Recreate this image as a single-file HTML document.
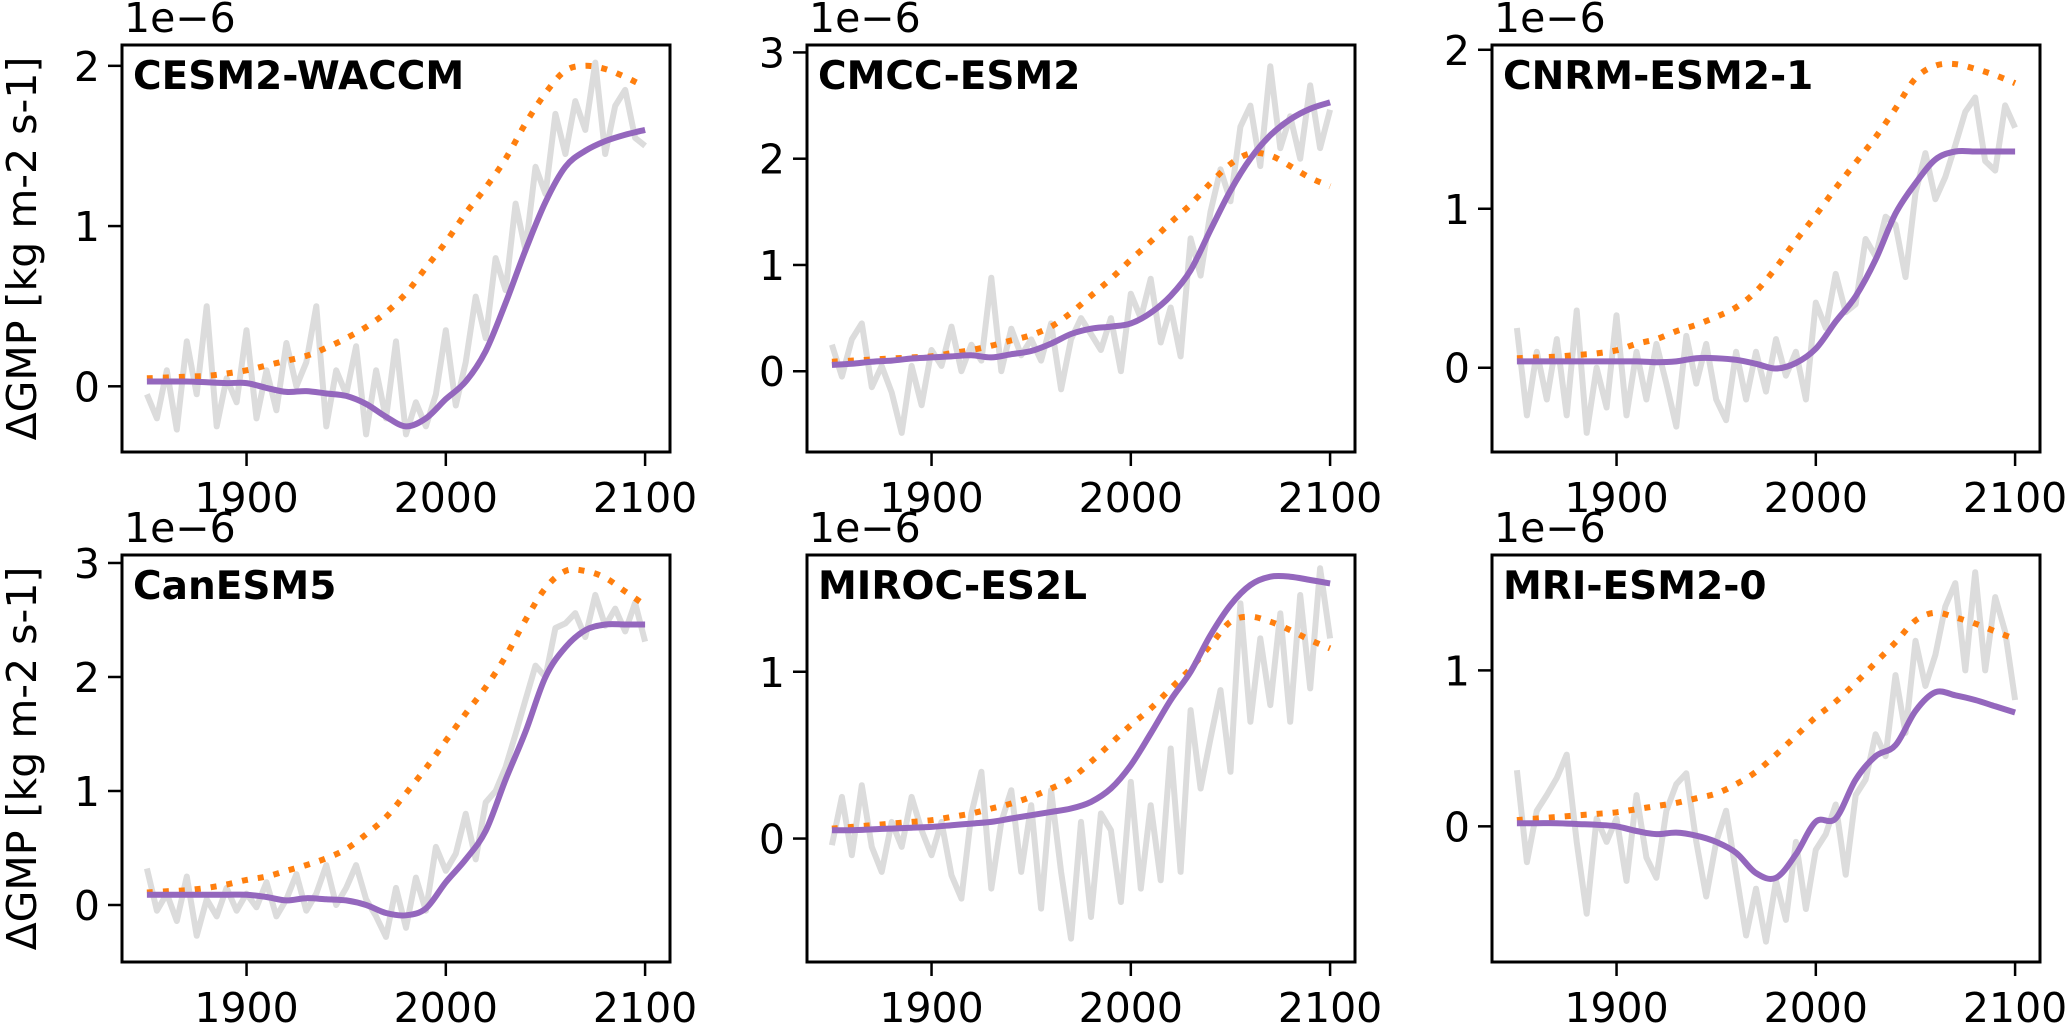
<!DOCTYPE html>
<html><head><meta charset="utf-8">
<style>
html,body{margin:0;padding:0;background:#fff;}
svg{display:block;font-family:"DejaVu Sans","Liberation Sans",sans-serif;}
</style></head>
<body>
<svg id="fig" width="2067" height="1027" viewBox="0 0 2067 1027" xmlns="http://www.w3.org/2000/svg"></svg>
<script>
// ---- data (values in 1e-6 kg m-2 s-1) ----
const models = ["CESM2-WACCM","CMCC-ESM2","CNRM-ESM2-1","CanESM5","MIROC-ES2L","MRI-ESM2-0"];
const decadeYears = [1850,1860,1870,1880,1890,1900,1910,1920,1930,1940,1950,1960,1970,1980,1990,2000,2010,2020,2030,2040,2050,2060,2070,2080,2090,2100];
const pentadYears = [1850,1855,1860,1865,1870,1875,1880,1885,1890,1895,1900,1905,1910,1915,1920,1925,1930,1935,1940,1945,1950,1955,1960,1965,1970,1975,1980,1985,1990,1995,2000,2005,2010,2015,2020,2025,2030,2035,2040,2045,2050,2055,2060,2065,2070,2075,2080,2085,2090,2095,2100];
const xTicks = [1900,2000,2100];
const yTicks1 = [0,1,2];
const yTicks2 = [0,1,2,3];
const yTicks3 = [0,1,2];
const yTicks4 = [0,1,2,3];
const yTicks5 = [0,1];
const yTicks6 = [0,1];
const yLim1 = [-0.41,2.13];
const yLim2 = [-0.76,3.07];
const yLim3 = [-0.53,2.03];
const yLim4 = [-0.50,3.07];
const yLim5 = [-0.74,1.70];
const yLim6 = [-0.87,1.74];

const orange1 = [.05,.055,.06,.065,.08,.10,.13,.16,.19,.24,.30,.37,.46,.58,.74,.90,1.08,1.24,1.42,1.64,1.83,1.97,2.0,1.98,1.93,1.87];
const purple1 = [.03,.03,.03,.025,.02,.02,-.01,-.035,-.03,-.045,-.06,-.11,-.19,-.25,-.20,-.08,.03,.22,.52,.85,1.15,1.37,1.47,1.53,1.57,1.60];
const gray1 = [-.05,-.2,.1,-.27,.28,-.05,.5,-.25,.05,-.1,.35,-.2,.1,-.15,.27,0,.15,.5,-.25,.1,-.05,.25,-.3,.1,-.2,.28,-.3,-.1,-.25,-.05,.35,-.12,.15,.56,.3,.8,.6,1.14,.85,1.37,1.2,1.7,1.45,1.78,1.6,2.02,1.45,1.75,1.85,1.55,1.5];

const orange2 = [.09,.10,.11,.12,.13,.14,.17,.20,.24,.29,.34,.42,.55,.71,.87,1.05,1.22,1.40,1.57,1.77,1.95,2.05,2.03,1.93,1.82,1.74];
const purple2 = [.06,.07,.09,.10,.12,.13,.14,.15,.13,.16,.19,.26,.35,.40,.42,.45,.55,.71,.95,1.33,1.70,2.00,2.22,2.37,2.47,2.53];
const gray2 = [.25,-.05,.3,.45,-.15,.05,-.2,-.58,.05,-.32,.2,.05,.42,0,.25,.1,.88,0,.4,.15,.3,.1,.45,-.17,.3,.5,.35,.2,.5,0,.73,.5,.87,.27,.6,.14,1.25,.9,1.5,1.9,1.6,2.3,2.5,1.93,2.87,2.1,2.4,2.0,2.69,2.1,2.46];

const orange3 = [.06,.065,.07,.08,.09,.11,.15,.18,.23,.27,.32,.38,.48,.63,.80,.96,1.13,1.29,1.45,1.63,1.82,1.90,1.91,1.88,1.84,1.79];
const purple3 = [.04,.04,.04,.04,.04,.04,.04,.035,.04,.06,.06,.05,.025,-.005,.03,.12,.29,.45,.68,.97,1.16,1.31,1.36,1.36,1.36,1.36];
const gray3 = [.25,-.3,.1,-.2,.18,-.3,.36,-.41,0,-.25,.33,-.3,.1,-.2,.15,-.1,-.37,.2,-.1,.15,-.2,-.33,.1,-.2,.1,-.15,.18,-.05,.1,-.2,.41,.25,.59,.35,.4,.81,.7,.95,.9,.57,1.1,1.35,1.06,1.2,1.4,1.61,1.7,1.3,1.24,1.65,1.51];

const orange4 = [.11,.12,.13,.15,.18,.22,.25,.30,.35,.41,.49,.62,.77,.98,1.20,1.44,1.68,1.91,2.18,2.50,2.78,2.93,2.93,2.87,2.75,2.63];
const purple4 = [.09,.09,.09,.09,.09,.09,.07,.04,.06,.05,.04,0,-.07,-.09,-.03,.20,.40,.65,1.10,1.52,2.00,2.26,2.41,2.46,2.46,2.46];
const gray4 = [.32,-.05,.1,-.14,.25,-.27,.05,-.1,.15,-.05,.1,-.02,.2,-.1,.05,.27,-.05,.1,.35,0,.15,.35,.05,-.1,-.28,.15,-.2,.24,-.05,.51,.3,.45,.8,.4,.9,1.0,1.21,1.5,1.8,2.1,2.0,2.43,2.47,2.56,2.35,2.72,2.45,2.6,2.4,2.65,2.31];

const orange5 = [.06,.07,.08,.09,.10,.11,.13,.15,.18,.21,.25,.30,.36,.46,.57,.68,.78,.90,1.02,1.16,1.30,1.33,1.30,1.25,1.19,1.14];
const purple5 = [.05,.05,.055,.06,.065,.07,.08,.09,.10,.12,.14,.16,.18,.22,.30,.44,.63,.83,1.00,1.22,1.40,1.52,1.57,1.57,1.55,1.53];
const gray5 = [-.04,.25,-.1,.32,-.05,-.2,.1,-.05,.25,.05,-.1,.1,-.22,-.36,.15,.4,-.3,.1,.29,-.2,.2,-.42,.29,-.2,-.6,.1,-.47,.15,.05,-.38,.34,-.3,.2,-.25,.54,-.2,.77,.3,.6,.89,.4,1.41,.7,1.2,.8,1.35,.7,1.46,.9,1.62,1.2];

const orange6 = [.04,.05,.06,.07,.08,.09,.11,.13,.15,.18,.21,.27,.35,.46,.58,.70,.80,.92,1.05,1.18,1.32,1.37,1.34,1.30,1.25,1.20];
const purple6 = [.02,.02,.02,.015,.01,0,-.03,-.05,-.04,-.06,-.10,-.17,-.30,-.33,-.18,.03,.05,.30,.45,.52,.74,.86,.84,.81,.77,.73];
const gray6 = [.36,-.23,.1,.2,.31,.46,-.1,-.56,.05,-.1,.05,-.35,.2,-.2,-.33,.1,.27,.34,-.1,-.45,-.1,.1,-.3,-.7,-.4,-.74,-.35,-.6,-.1,-.53,-.15,-.05,.14,-.31,.2,.3,.59,.45,.97,.6,1.19,.9,1.1,1.41,1.56,1.0,1.63,1.0,1.47,1.25,.81];

const panels = [
 {o:orange1,p:purple1,g:gray1,yt:yTicks1,yl:yLim1},
 {o:orange2,p:purple2,g:gray2,yt:yTicks2,yl:yLim2},
 {o:orange3,p:purple3,g:gray3,yt:yTicks3,yl:yLim3},
 {o:orange4,p:purple4,g:gray4,yt:yTicks4,yl:yLim4},
 {o:orange5,p:purple5,g:gray5,yt:yTicks5,yl:yLim5},
 {o:orange6,p:purple6,g:gray6,yt:yTicks6,yl:yLim6}
];

// ---- layout ----
const NS = "http://www.w3.org/2000/svg";
const svg = document.getElementById('fig');
const lefts = [122,807,1492], tops = [45,555], W = 548, H = 407;
const X0 = 1837.5, X1 = 2112.5;

function mk(tag, attrs, parent){
  const e = document.createElementNS(NS, tag);
  for (const k in attrs) e.setAttribute(k, attrs[k]);
  (parent||svg).appendChild(e);
  return e;
}
function smoothPath(pts){
  let d = "M" + pts[0][0].toFixed(1) + "," + pts[0][1].toFixed(1);
  for (let i=0;i<pts.length-1;i++){
    const p0 = pts[Math.max(0,i-1)], p1 = pts[i], p2 = pts[i+1], p3 = pts[Math.min(pts.length-1,i+2)];
    const c1x = p1[0] + (p2[0]-p0[0])/6, c1y = p1[1] + (p2[1]-p0[1])/6;
    const c2x = p2[0] - (p3[0]-p1[0])/6, c2y = p2[1] - (p3[1]-p1[1])/6;
    d += " C" + c1x.toFixed(1)+","+c1y.toFixed(1)+" "+c2x.toFixed(1)+","+c2y.toFixed(1)+" "+p2[0].toFixed(1)+","+p2[1].toFixed(1);
  }
  return d;
}

panels.forEach((pn, i) => {
  const L = lefts[i%3], T = tops[Math.floor(i/3)];
  const sx = v => L + (v - X0) / (X1 - X0) * W;
  const sy = v => T + (pn.yl[1] - v) / (pn.yl[1] - pn.yl[0]) * H;
  const g = mk('g', {});
  
  
  const clipId = 'clip' + i;
  const cp = mk('clipPath', {id: clipId}, g);
  mk('rect', {x:L, y:T, width:W, height:H}, cp);

  const plot = mk('g', {'clip-path':'url(#'+clipId+')'}, g);
  const gp = mk('polyline', {points: pentadYears.map((y,k)=>sx(y).toFixed(1)+','+sy(pn.g[k]).toFixed(1)).join(' '),
    fill:'none', stroke:'#dcdcdc', 'stroke-width':6, 'stroke-linejoin':'round'}, plot);
  
  
  const op = mk('path', {d: smoothPath(decadeYears.map((y,k)=>[sx(y), sy(pn.o[k])])),
    fill:'none', stroke:'#ff7f0e', 'stroke-width':6, 'stroke-dasharray':'6 10'}, plot);
  
  
  const pp = mk('path', {d: smoothPath(decadeYears.map((y,k)=>[sx(y), sy(pn.p[k])])),
    fill:'none', stroke:'#9467bd', 'stroke-width':6, 'stroke-linecap':'butt'}, plot);
  
  

  const fr = mk('rect', {x:L, y:T, width:W, height:H, fill:'none', stroke:'#000', 'stroke-width':3}, g);
  
  

  pn.yt.forEach(v => {
    const y = sy(v);
    const tk = mk('line', {x1:L-14, x2:L, y1:y, y2:y, stroke:'#000', 'stroke-width':2.5}, g);
    
    
    const tx = mk('text', {x:L-22, y:y+15, 'text-anchor':'end', 'font-size':41, fill:'#000'}, g);
    tx.textContent = String(v);
    
    
  });
  xTicks.forEach(v => {
    const x = sx(v);
    const tk = mk('line', {x1:x, x2:x, y1:T+H, y2:T+H+14, stroke:'#000', 'stroke-width':2.5}, g);
    
    
    const tx = mk('text', {x:x, y:T+H+60, 'text-anchor':'middle', 'font-size':41, fill:'#000'}, g);
    tx.textContent = String(v);
    
    
  });
  const off = mk('text', {x:L+2, y:T-13, 'font-size':41, fill:'#000'}, g);
  off.textContent = '1e\u22126';
  
  
  const tt = mk('text', {x:L+11, y:T+44, 'font-size':39, 'font-weight':'bold', fill:'#000'}, g);
  tt.textContent = models[i];
  
  
});

tops.forEach((T, r) => {
  const cy = T + H/2;
  const yl = mk('text', {x:0, y:0, transform:'translate(36,'+cy+') rotate(-90)', 'text-anchor':'middle', 'font-size':41, fill:'#000'});
  yl.textContent = '\u0394GMP [kg m-2 s-1]';
  
  
});
</script>
</body></html>
